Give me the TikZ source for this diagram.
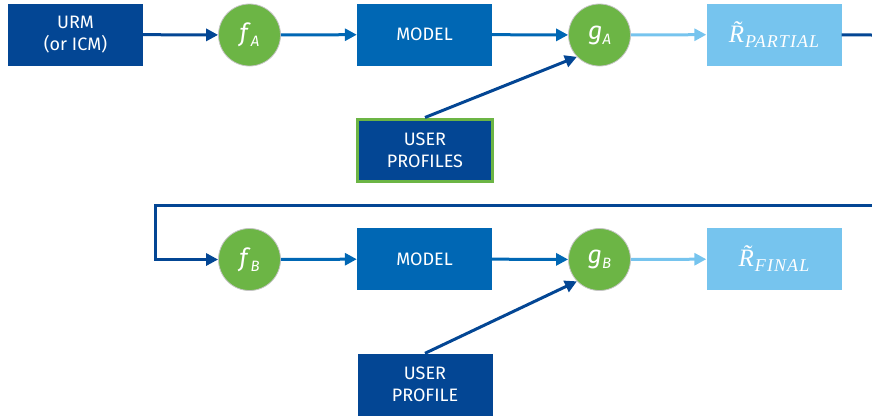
\documentclass[tikz,border=0pt]{standalone}
\usepackage{fontspec}
\setmainfont{Fira Sans}
\newfontfamily\resfont{Liberation Serif}
\usetikzlibrary{arrows.meta}
\definecolor{navy}{HTML}{034694}
\definecolor{midblue}{HTML}{0067B4}
\definecolor{skyblue}{HTML}{76C4EE}
\definecolor{leaf}{HTML}{6CB545}
\definecolor{rimgray}{HTML}{C4C4C4}
% italic symbol with a lowered capital index
\newcommand{\sym}[2]{\textit{#1}\raisebox{-5pt}{\fontsize{15}{15}\selectfont\textit{#2}}}
% serif estimate symbol with a capital index
\newcommand{\est}[1]{{\resfont\itshape\~{R}\kern1pt\raisebox{-5pt}{\fontsize{18}{18}\selectfont\addfontfeature{LetterSpace=6}#1}}}
\begin{document}
\begin{tikzpicture}[x=1pt,y=-1pt,
  box/.style={rectangle, minimum width=135pt, minimum height=62pt, inner sep=0pt,
    text=white, align=center, font=\fontsize{18}{22}\selectfont},
  darkbox/.style={box, fill=navy},
  modelbox/.style={box, fill=midblue},
  resbox/.style={box, fill=skyblue, font=\fontsize{25}{27}\selectfont},
  greenrim/.style={draw=leaf, line width=3pt},
  fnode/.style={circle, fill=leaf, draw=rimgray, line width=0.8pt, minimum size=62pt,
    inner sep=0pt, text=white, font=\fontsize{25}{27}\selectfont},
  link/.style={line width=3pt, -{Triangle[length=12pt,width=12pt]}},
  plain/.style={line width=3pt},
]
\useasboundingbox (0,0) rectangle (872,416);

% first pass
\node[darkbox] (urm) at (75.5,34.5) {URM\\(or ICM)};
\node[fnode] (fA) at (249.5,35) {\sym{f}{A}};
\node[modelbox] (mA) at (424.5,34.5) {MODEL};
\node[fnode] (gA) at (599.5,35) {\sym{g}{A}};
\node[resbox] (rP) at (774,34.5) {\est{PARTIAL}};
\node[darkbox, greenrim] (upA) at (425,150) {USER\\PROFILES};
\coordinate (outA) at (872,35);

\draw[link, navy] (urm) -- (fA);
\draw[link, midblue] (fA) -- (mA);
\draw[link, midblue] (mA) -- (gA);
\draw[link, skyblue] (gA) -- (rP);
\draw[plain, navy] (rP) -- (outA);
\draw[link, navy] (upA.north) -- (gA.224);

% second pass
\node[fnode] (fB) at (249.5,259.5) {\sym{f}{B}};
\node[modelbox] (mB) at (424.5,259) {MODEL};
\node[fnode] (gB) at (599.5,259.5) {\sym{g}{B}};
\node[resbox] (rF) at (774,259) {\est{FINAL}};
\node[darkbox] (upB) at (425,384.5) {USER\\PROFILE};
\coordinate (inB) at (872,205);
\coordinate (turnB) at (155.5,205);

\draw[link, navy] (inB) -- (turnB) |- (fB);
\draw[link, midblue] (fB) -- (mB);
\draw[link, midblue] (mB) -- (gB);
\draw[link, skyblue] (gB) -- (rF);
\draw[link, navy] (upB.north) -- (gB.224);
\end{tikzpicture}
\end{document}
